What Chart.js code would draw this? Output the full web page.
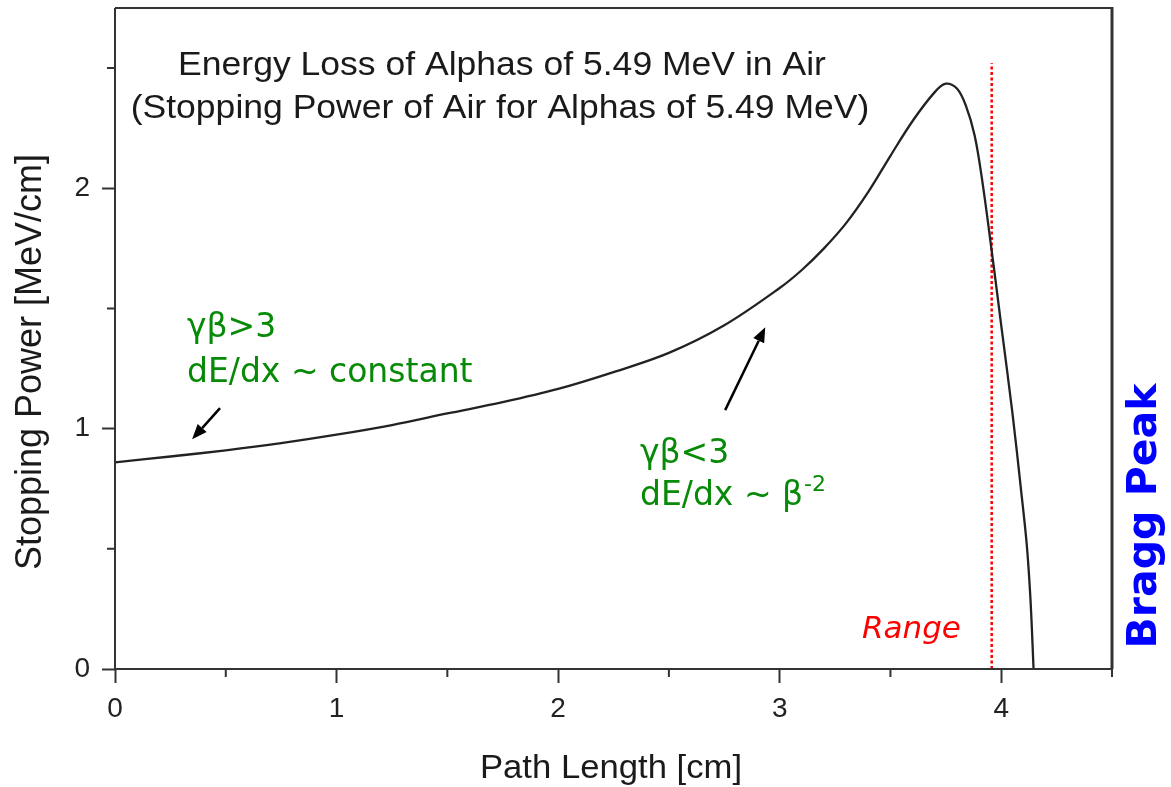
<!DOCTYPE html>
<html>
<head>
<meta charset="utf-8">
<script src="https://cdn.jsdelivr.net/npm/chart.js@4.4.1/dist/chart.umd.min.js"></script>
<style>
  html, body { margin: 0; padding: 0; background: #fff; }
</style>
</head>
<body>
<canvas id="braggChart" width="1171" height="787"></canvas>
<script>
// values
const pathLength = [0, 0.25, 0.5, 0.75, 1.0, 1.25, 1.5, 1.75, 2.0, 2.25, 2.5, 2.75, 3.0, 3.1, 3.2, 3.3, 3.4, 3.5, 3.6, 3.7, 3.75, 3.8, 3.84, 3.88, 3.913, 3.957, 4.0, 4.05, 4.09, 4.115, 4.132, 4.146];
const stoppingPower = [0.86, 0.884, 0.91, 0.94, 0.975, 1.015, 1.063, 1.11, 1.165, 1.235, 1.315, 1.43, 1.585, 1.66, 1.75, 1.855, 1.985, 2.135, 2.28, 2.40, 2.435, 2.415, 2.345, 2.22, 2.04, 1.74, 1.43, 1.07, 0.74, 0.52, 0.29, 0.0];
const rangeX = [3.957, 3.957];
const rangeY = [0, 2.52];
const arrowFrom = [[0.474, 1.085], [2.754, 1.077]];
const arrowTo = [[0.348, 0.956], [2.935, 1.422]];
const titleLines = ['Energy Loss of Alphas of 5.49 MeV in Air', '(Stopping Power of Air for Alphas of 5.49 MeV)'];

const curveData = pathLength.map((v, i) => ({ x: v, y: stoppingPower[i] }));
const rangeData = rangeX.map((v, i) => ({ x: v, y: rangeY[i] }));

function drawText(ctx, text, px, py, font, color, align, sx) {
    ctx.save();
    ctx.font = font;
    ctx.fillStyle = color;
    ctx.textAlign = align;
    ctx.textBaseline = 'alphabetic';
    ctx.translate(px, py);
    ctx.scale(sx || 1, 1);
    ctx.fillText(text, 0, 0);
    ctx.restore();
}

function drawArrow(ctx, x0, y0, x1, y1) {
    const ang = Math.atan2(y1 - y0, x1 - x0);
    const head = 15, half = 6;
    const bx = x1 - Math.cos(ang) * head, by = y1 - Math.sin(ang) * head;
    ctx.save();
    ctx.strokeStyle = '#000';
    ctx.fillStyle = '#000';
    ctx.lineWidth = 2.5;
    ctx.beginPath();
    ctx.moveTo(x0, y0);
    ctx.lineTo(bx, by);
    ctx.stroke();
    ctx.beginPath();
    ctx.moveTo(x1, y1);
    ctx.lineTo(bx + Math.sin(ang) * half, by - Math.cos(ang) * half);
    ctx.lineTo(bx - Math.sin(ang) * half, by + Math.cos(ang) * half);
    ctx.closePath();
    ctx.fill();
    ctx.restore();
}

const overlay = {
    id: 'overlay',
    afterDatasetsDraw(chart) {
        const { ctx, chartArea: a, scales: { x, y } } = chart;

        // frame
        ctx.save();
        ctx.strokeStyle = '#333';
        ctx.lineWidth = 2;
        ctx.beginPath();
        ctx.moveTo(a.left, a.top);
        ctx.lineTo(a.right, a.top);
        ctx.moveTo(a.left, a.top);
        ctx.lineTo(a.left, a.bottom);
        ctx.lineTo(a.right, a.bottom);
        ctx.stroke();
        ctx.lineWidth = 3;
        ctx.beginPath();
        ctx.moveTo(a.right, a.top - 1);
        ctx.lineTo(a.right, a.bottom);
        ctx.stroke();

        // minor ticks
        ctx.lineWidth = 2;
        ctx.beginPath();
        x.ticks.filter(t => !Number.isInteger(t.value)).forEach(t => {
            const px = x.getPixelForValue(t.value);
            ctx.moveTo(px, a.bottom);
            ctx.lineTo(px, a.bottom + 8);
        });
        y.ticks.filter(t => !Number.isInteger(t.value)).forEach(t => {
            const py = y.getPixelForValue(t.value);
            ctx.moveTo(a.left, py);
            ctx.lineTo(a.left - 8, py);
        });
        ctx.stroke();
        ctx.restore();

        // arrows
        arrowFrom.forEach((p, i) => {
            drawArrow(ctx, x.getPixelForValue(p[0]), y.getPixelForValue(p[1]),
                x.getPixelForValue(arrowTo[i][0]), y.getPixelForValue(arrowTo[i][1]));
        });

        // title inside the plot
        drawText(ctx, titleLines[0], 502, 75, '34px "Liberation Sans", Arial, sans-serif', '#1a1a1a', 'center', 1.045);
        drawText(ctx, titleLines[1], 500, 118, '34px "Liberation Sans", Arial, sans-serif', '#1a1a1a', 'center', 1.045);

        // green notes
        const green = '#078a07';
        const gFont = '33px "DejaVu Sans", Verdana, sans-serif';
        drawText(ctx, 'γβ>3', 187, 337, gFont, green, 'left');
        drawText(ctx, 'dE/dx ~ constant', 187, 382, gFont, green, 'left');
        drawText(ctx, 'γβ<3', 640, 463, gFont, green, 'left');
        drawText(ctx, 'dE/dx ~ β', 640, 505, gFont, green, 'left');
        ctx.save();
        ctx.font = gFont;
        const w = ctx.measureText('dE/dx ~ β').width;
        ctx.restore();
        drawText(ctx, '-2', 640 + w + 1, 491, '22px "DejaVu Sans", Verdana, sans-serif', green, 'left');

        // range label
        drawText(ctx, 'Range', 862, 638, 'italic 31px "DejaVu Sans", Verdana, sans-serif', '#ff0000', 'left');

        // axis titles
        drawText(ctx, 'Path Length [cm]', 611, 778, '34px "Liberation Sans", Arial, sans-serif', '#1a1a1a', 'center', 1.02);
        ctx.save();
        ctx.translate(41, 362);
        ctx.rotate(-Math.PI / 2);
        drawText(ctx, 'Stopping Power [MeV/cm]', 0, 0, '36px "Liberation Sans", Arial, sans-serif', '#1a1a1a', 'center');
        ctx.restore();

        // Bragg Peak
        ctx.save();
        ctx.translate(1156, 516);
        ctx.rotate(-Math.PI / 2);
        drawText(ctx, 'Bragg Peak', 0, 0, 'bold 41px "DejaVu Sans", Verdana, sans-serif', '#0000ff', 'center');
        ctx.restore();
    }
};

const tickColor = (c) => Number.isInteger(c.tick.value) ? '#333' : 'rgba(0,0,0,0)';

new Chart(document.getElementById('braggChart'), {
    type: 'line',
    data: {
        datasets: [{
            label: 'Stopping Power',
            data: curveData,
            borderColor: '#222',
            borderWidth: 2.3,
            pointRadius: 0,
            tension: 0.35,
            fill: false
        }, {
            label: 'Range',
            data: rangeData,
            borderColor: '#ff0000',
            borderWidth: 2.5,
            borderDash: [3, 2.5],
            pointRadius: 0,
            tension: 0,
            fill: false
        }]
    },
    options: {
        responsive: false,
        animation: false,
        devicePixelRatio: 1,
        layout: { padding: { top: 8, right: 59, left: 0, bottom: 0 } },
        plugins: {
            legend: { display: false },
            tooltip: { enabled: false }
        },
        scales: {
            x: {
                type: 'linear',
                min: 0,
                max: 4.5,
                afterFit: (s) => { s.height = 118; s.paddingLeft = 0; s.paddingRight = 0; },
                border: { display: false },
                grid: { drawOnChartArea: false, tickLength: 14, tickWidth: 2, tickColor: tickColor },
                ticks: {
                    stepSize: 0.5,
                    includeBounds: false,
                    padding: 9,
                    maxRotation: 0,
                    autoSkip: false,
                    color: '#222',
                    font: { family: '"Liberation Sans", Arial, sans-serif', size: 28 },
                    callback: (v) => Number.isInteger(v) ? String(v) : ''
                }
            },
            y: {
                min: 0,
                max: 2.75,
                afterFit: (s) => { s.width = 115; s.paddingTop = 0; s.paddingBottom = 0; },
                border: { display: false },
                grid: { drawOnChartArea: false, tickLength: 13, tickWidth: 2, tickColor: tickColor },
                ticks: {
                    stepSize: 0.5,
                    includeBounds: false,
                    padding: 12,
                    autoSkip: false,
                    color: '#222',
                    font: { family: '"Liberation Sans", Arial, sans-serif', size: 28 },
                    callback: (v) => Number.isInteger(v) ? String(v) : ''
                }
            }
        }
    },
    plugins: [overlay]
});
</script>
</body>
</html>
